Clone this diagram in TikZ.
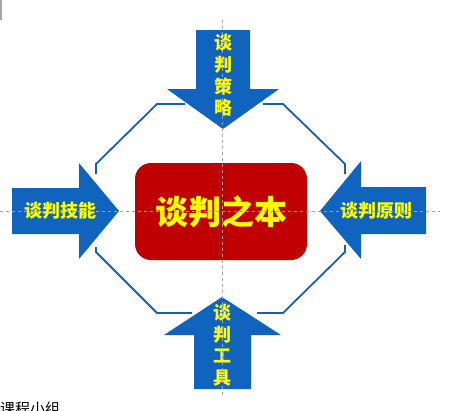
\documentclass[tikz,border=0pt]{standalone}
\usepackage{fontspec}
\newfontfamily\cjk{Noto Sans CJK SC}
\definecolor{arrowblue}{RGB}{17,100,190}
\definecolor{lineblue}{RGB}{22,95,178}
\definecolor{boxred}{RGB}{192,0,0}
\definecolor{txtyellow}{RGB}{255,255,0}
\definecolor{guidegray}{RGB}{165,165,165}
\tikzset{
  bigarrow/.style={fill=arrowblue, draw=none},
  octline/.style={draw=lineblue, line width=1.8pt, line join=miter},
  sidetext/.style={text=txtyellow, inner sep=0pt, font=\cjk\bfseries\fontsize{18}{21.6}\selectfont, align=center},
  centertext/.style={text=txtyellow, inner sep=0pt, font=\cjk\bfseries\fontsize{33}{36}\selectfont},
  guide/.style={draw=guidegray, line width=0.7pt, dash pattern=on 3pt off 3pt},
}
\begin{document}
\begin{tikzpicture}[x=1pt,y=-1pt]
\useasboundingbox (0,0) rectangle (449,410);
\fill[white] (0,0) rectangle (449,410);
% small mark top-left
\fill[black!35] (0,0) rectangle (2,20);
% octagon frame pieces
\draw[octline] (185,104) -- (157,104) -- (96,164) -- (96,174);
\draw[octline] (263,104) -- (283,104) -- (345,164) -- (345,174);
\draw[octline] (96,247) -- (96,252) -- (157,313) -- (192,313);
\draw[octline] (257,313) -- (283,313) -- (345,252) -- (345,245);
% arrows
\fill[bigarrow] (196,30) -- (250,30) -- (250,89) -- (279,89) -- (223,129) -- (167,89) -- (196,89) -- cycle;
\fill[bigarrow] (194,389) -- (251,389) -- (251,335) -- (281,335) -- (222,297) -- (164,335) -- (194,335) -- cycle;
\fill[bigarrow] (12,188) -- (79,188) -- (79,163) -- (119,211) -- (79,259) -- (79,234) -- (12,234) -- cycle;
\fill[bigarrow] (426,187) -- (361,187) -- (361,161) -- (320,211) -- (361,259) -- (361,234) -- (426,234) -- cycle;
% centre box
\node[fill=boxred, rounded corners=16pt, minimum width=172pt, minimum height=97pt, inner sep=0pt] (core) at (221,211.5) {};
\node[centertext] (coretext) at (221,212) {谈判之本};
% labels
\node[sidetext] (ttop) at (223,75.5) {谈\\判\\策\\略};
\node[sidetext] (tbot) at (222.5,345) {谈\\判\\工\\具};
\node[sidetext] (tleft) at (60,211) {谈判技能};
\node[sidetext] (tright) at (376.5,211) {谈判原则};
% guides
\draw[guide] (0,211) -- (440,211);
\draw[guide] (222,20) -- (222,397);
% cut-off caption
\node[anchor=north west, inner sep=0pt, font=\cjk\fontsize{15}{15}\selectfont] (cap) at (0,402) {课程小组};
\end{tikzpicture}
\end{document}
